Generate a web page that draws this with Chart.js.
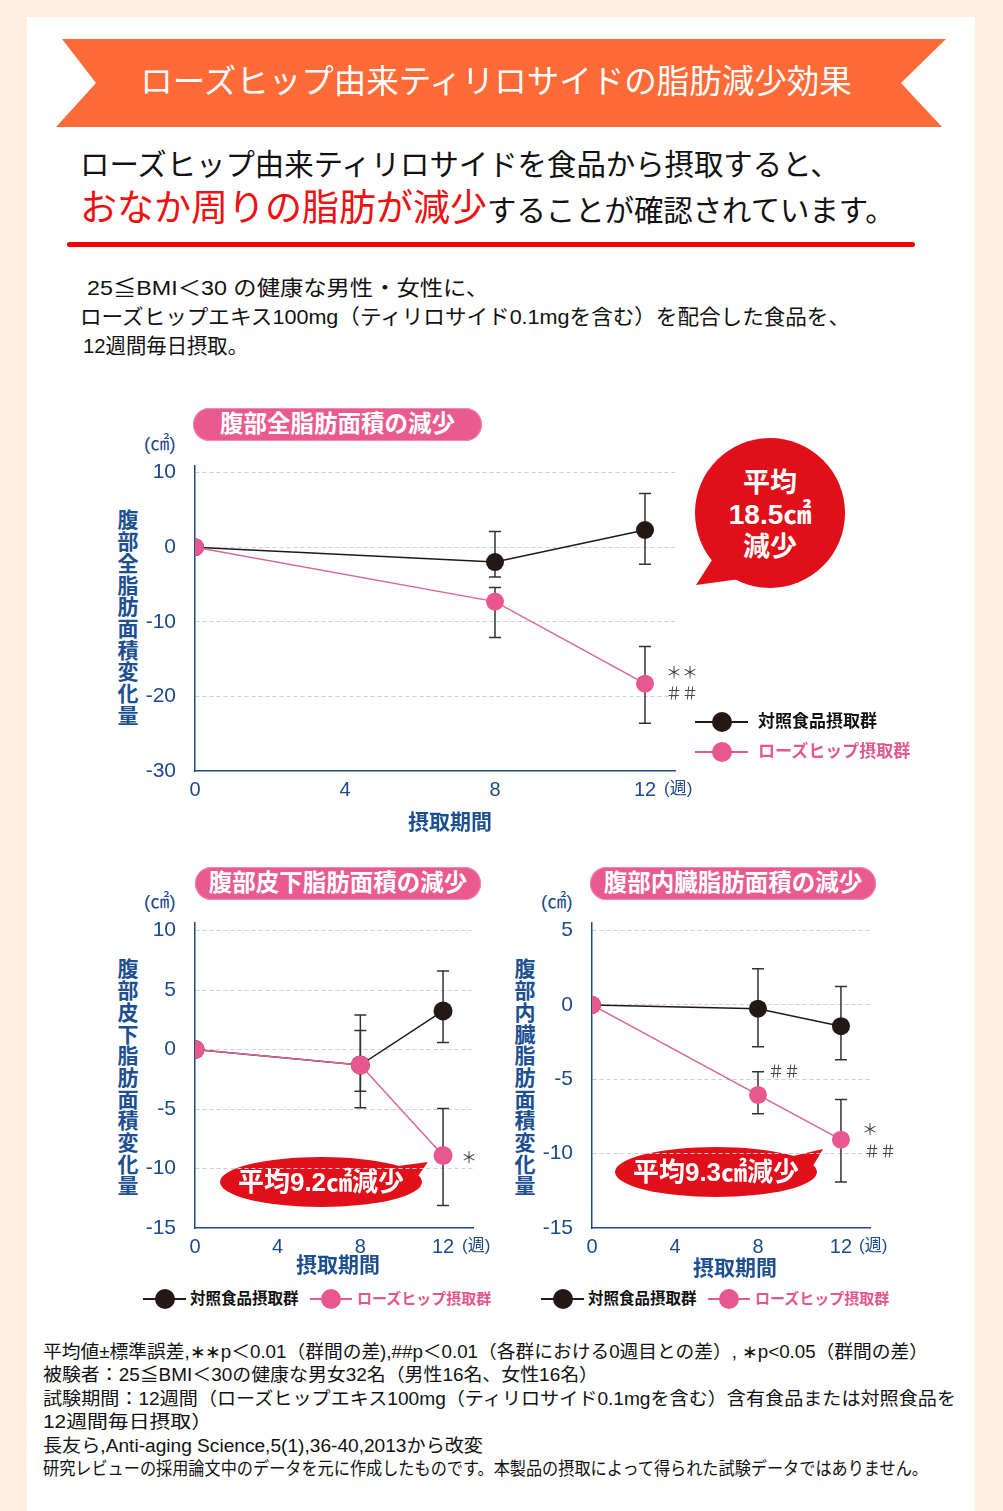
<!DOCTYPE html>
<html lang="ja">
<head>
<meta charset="utf-8">
<title>ローズヒップ由来ティリロサイドの脂肪減少効果</title>
<script src="https://cdn.jsdelivr.net/npm/chart.js@4.4.1/dist/chart.umd.min.js"></script>
<style>
  html, body { margin: 0; padding: 0; }
  body {
    width: 1003px; height: 1511px; position: relative; overflow: hidden;
    background: #fdeee1;
    font-family: "Liberation Sans", "Noto Sans CJK JP", sans-serif;
  }
  .panel { position: absolute; left: 27px; top: 17px; width: 948px; height: 1494px; background: #fff; }
  .abs { position: absolute; white-space: nowrap; }
  .fit { transform-origin: 0 50%; }
  .ribbon-text { left: 0; width: 992px; top: 60px; line-height: 44px; text-align: center; color: #fff; font-size: 32.5px; }
  .lead { left: 80px; font-size: 29.4px; color: #111; }
  .lead .red { color: #ee1111; font-size: 37px; }
  .rule { left: 67px; top: 242px; width: 848px; height: 5px; background: #f40000; border-radius: 3px; }
  .cond { left: 0; font-size: 21px; line-height: 29px; color: #111; }
  .pill { height: 33px; line-height: 33px; border-radius: 17px; background: #e95a8f; color: #fff;
          font-weight: 700; font-size: 23.5px; text-align: center; box-shadow: inset 0 0 0 1px #f08ab0; }
  .unit { font-size: 19px; color: #1d4a8a; line-height: 24px; }
  .ytitle { writing-mode: vertical-rl; font-weight: 700; font-size: 21px; color: #1d4f91; letter-spacing: 0.7px; line-height: 24px; }
  .xtitle { font-weight: 700; font-size: 21px; color: #1d4f91; line-height: 26px; transform: translateX(-50%); }
  .week { font-size: 17px; color: #1d4a8a; line-height: 22px; }
  .mark { font-size: 16px; color: #444; line-height: 20px; }
  .leg { font-weight: 700; line-height: 22px; }
  .note { left: 0; font-size: 18px; line-height: 23px; color: #111; }
  canvas { position: absolute; }
</style>
</head>
<body>
<div class="panel"></div>

<svg class="abs" style="left:0;top:0" width="1003" height="1511">
  <polygon points="62,39 946,39 901,83 942,127 56,127 96,83" fill="#ff6a37"/>
  <!-- bubble: total -->
  <polygon points="712,560 696,585 740,579" fill="#e10f1a"/>
  <circle cx="770" cy="513" r="75" fill="#e10f1a"/>
  <!-- bubble: subcutaneous -->
  <polygon points="398,1166 428,1162 418,1176" fill="#e10f1a"/>
  <ellipse cx="321" cy="1182" rx="101" ry="25" fill="#e10f1a"/>
  <!-- bubble: visceral -->
  <polygon points="793,1156 823,1149 813,1166" fill="#e10f1a"/>
  <ellipse cx="716" cy="1172" rx="101" ry="25" fill="#e10f1a"/>
</svg>

<div class="abs ribbon-text">ローズヒップ由来ティリロサイドの脂肪減少効果</div>
<div class="abs lead" style="top:144px;line-height:42px">ローズヒップ由来ティリロサイドを食品から摂取すると、</div>
<div class="abs lead" style="top:186px;line-height:46px"><span class="red">おなか周りの脂肪が減少</span>することが確認されています。</div>
<div class="abs rule"></div>

<div class="abs cond fit" data-x="87" data-w="402" style="top:273px">25≦BMI＜30 の健康な男性・女性に、</div>
<div class="abs cond fit" data-x="80" data-w="770" style="top:302px">ローズヒップエキス100mg（ティリロサイド0.1mgを含む）を配合した食品を、</div>
<div class="abs cond fit" data-x="83" data-w="165" style="top:331px">12週間毎日摂取。</div>

<!-- chart 1 -->
<div class="abs pill" style="left:193px;top:408px;width:289px">腹部全脂肪面積の減少</div>
<div class="abs unit" style="left:144px;top:432px">(㎠)</div>
<div class="abs ytitle" style="left:114px;top:509px">腹部全脂肪面積変化量</div>
<canvas id="chartTotal" width="600" height="376" style="left:100px;top:434px"></canvas>
<div class="abs week" style="left:664px;top:778px">(週)</div>
<div class="abs xtitle" style="left:450px;top:809px">摂取期間</div>
<div class="abs mark" style="left:666px;top:663px">＊＊</div>
<div class="abs mark" style="left:666px;top:684px">＃＃</div>
<div class="abs" style="left:700px;top:466px;width:140px;text-align:center;color:#fff;font-weight:700">
  <div style="font-size:27px;line-height:34px">平均</div>
  <div style="font-size:28px;line-height:30px">18.5㎠</div>
  <div style="font-size:27px;line-height:34px">減少</div>
</div>

<!-- chart 2 -->
<div class="abs pill" style="left:195px;top:867px;width:286px">腹部皮下脂肪面積の減少</div>
<div class="abs unit" style="left:144px;top:890px">(㎠)</div>
<div class="abs ytitle" style="left:114px;top:958px">腹部皮下脂肪面積変化量</div>
<canvas id="chartSub" width="400" height="369" style="left:100px;top:891px"></canvas>
<div class="abs week" style="left:462px;top:1235px">(週)</div>
<div class="abs xtitle" style="left:338px;top:1252px">摂取期間</div>
<div class="abs mark" style="left:461px;top:1148px">＊</div>
<div class="abs" style="left:221px;top:1166px;width:200px;text-align:center;color:#fff;font-weight:700;font-size:26px;line-height:32px">平均9.2㎠減少</div>

<!-- chart 3 -->
<div class="abs pill" style="left:590px;top:867px;width:286px">腹部内臓脂肪面積の減少</div>
<div class="abs unit" style="left:541px;top:890px">(㎠)</div>
<div class="abs ytitle" style="left:511px;top:958px">腹部内臓脂肪面積変化量</div>
<canvas id="chartVis" width="400" height="369" style="left:497px;top:891px"></canvas>
<div class="abs week" style="left:859px;top:1235px">(週)</div>
<div class="abs xtitle" style="left:735px;top:1255px">摂取期間</div>
<div class="abs mark" style="left:768px;top:1062px">＃＃</div>
<div class="abs mark" style="left:862px;top:1120px">＊</div>
<div class="abs mark" style="left:864px;top:1142px">＃＃</div>
<div class="abs" style="left:616px;top:1156px;width:200px;text-align:center;color:#fff;font-weight:700;font-size:26px;line-height:32px">平均9.3㎠減少</div>

<div id="legends"></div>

<div class="abs note fit" data-x="43" data-w="885" style="top:1341px">平均値±標準誤差,∗∗p＜0.01（群間の差),##p＜0.01（各群における0週目との差）, ∗p&lt;0.05（群間の差）</div>
<div class="abs note fit" data-x="43" data-w="555" style="top:1364px">被験者：25≦BMI＜30の健康な男女32名（男性16名、女性16名）</div>
<div class="abs note fit" data-x="43" data-w="913" style="top:1388px">試験期間：12週間（ローズヒップエキス100mg（ティリロサイド0.1mgを含む）含有食品または対照食品を</div>
<div class="abs note fit" data-x="43" data-w="169" style="top:1411px">12週間毎日摂取）</div>
<div class="abs note fit" data-x="43" data-w="440" style="top:1435px">長友ら,Anti-aging Science,5(1),36-40,2013から改変</div>
<div class="abs note fit" data-x="43" data-w="885" style="top:1458px">研究レビューの採用論文中のデータを元に作成したものです。本製品の摂取によって得られた試験データではありません。</div>

<script>
// weeks of intake
const weeks = [0, 8, 12];
const weekTicks = [0, 4, 8, 12];
const seriesNames = ['対照食品摂取群', 'ローズヒップ摂取群'];

// total abdominal fat area change (cm2)
const totalControl = [0, -2.0, 2.3];
const totalControlUp = [0, 4.1, 4.9];
const totalControlDown = [0, 2.0, 4.6];
const totalRose = [0, -7.3, -18.3];
const totalRoseUp = [0, 1.9, 5.0];
const totalRoseDown = [0, 4.8, 5.3];
const totalTicks = [-30, -20, -10, 0, 10];

// subcutaneous fat area change
const subControl = [0, -1.3, 3.25];
const subControlUp = [0, 4.2, 3.35];
const subControlDown = [0, 3.6, 2.65];
const subRose = [0, -1.3, -8.9];
const subRoseUp = [0, 2.9, 3.95];
const subRoseDown = [0, 2.2, 4.2];
const subTicks = [-15, -10, -5, 0, 5, 10];

// visceral fat area change
const visControl = [0, -0.25, -1.43];
const visControlUp = [0, 2.68, 2.68];
const visControlDown = [0, 2.56, 2.25];
const visRose = [0, -6.05, -9.06];
const visRoseUp = [0, 1.56, 2.7];
const visRoseDown = [0, 1.27, 2.84];
const visTicks = [-15, -10, -5, 0, 5];

const axisBlue = '#1d4a8a';
const blackColor = '#231815';
const pinkColor = '#e8588f';
const pinkLine = '#d9659a';
const TOP_GAP = 30; // plot top sits this far below the canvas top

// draws error bars for every dataset that carries errUp/errDown
const errorBars = {
  id: 'errorBars',
  beforeDatasetsDraw(chart) {
    const ctx = chart.ctx;
    const x = chart.scales.x, y = chart.scales.y;
    ctx.save();
    ctx.strokeStyle = '#333';
    ctx.lineWidth = 1.5;
    chart.data.datasets.forEach(ds => {
      ds.data.forEach((p, i) => {
        const up = ds.errUp[i], down = ds.errDown[i];
        if (!up && !down) return;
        const px = x.getPixelForValue(p.x);
        const top = y.getPixelForValue(p.y + up);
        const bot = y.getPixelForValue(p.y - down);
        ctx.beginPath();
        ctx.moveTo(px, top); ctx.lineTo(px, bot);
        ctx.moveTo(px - 6, top); ctx.lineTo(px + 6, top);
        ctx.moveTo(px - 6, bot); ctx.lineTo(px + 6, bot);
        ctx.stroke();
      });
    });
    ctx.restore();
  }
};

function points(vals) {
  return weeks.map((w, i) => ({ x: w, y: vals[i] }));
}

function makeChart(id, cfg) {
  const yMin = cfg.yTicks[0];
  const chart = new Chart(document.getElementById(id), {
    type: 'line',
    data: {
      datasets: [
        {
          label: seriesNames[0], data: points(cfg.control),
          errUp: cfg.controlUp, errDown: cfg.controlDown,
          borderColor: blackColor, backgroundColor: blackColor, borderWidth: 1.5,
          pointRadius: cfg.r, pointBorderWidth: 0, pointBackgroundColor: blackColor, order: 1
        },
        {
          label: seriesNames[1], data: points(cfg.rose),
          errUp: cfg.roseUp, errDown: cfg.roseDown,
          borderColor: pinkLine, backgroundColor: pinkColor, borderWidth: 1.5,
          pointRadius: cfg.r, pointBorderWidth: 0, pointBackgroundColor: pinkColor, order: 0
        }
      ]
    },
    options: {
      responsive: false,
      animation: false,
      layout: { padding: { top: TOP_GAP, right: cfg.padRight, left: 0, bottom: 0 } },
      plugins: { legend: { display: false }, tooltip: { enabled: false } },
      scales: {
        x: {
          type: 'linear', min: 0, max: cfg.xMax,
          afterBuildTicks: s => { s.ticks = weekTicks.map(v => ({ value: v })); },
          afterFit: s => { s.height = cfg.xHeight; },
          grid: { display: false, drawTicks: false },
          border: { color: axisBlue, width: 1.5 },
          ticks: { padding: 7, color: axisBlue, font: { family: 'Liberation Sans', size: 20 }, maxRotation: 0 }
        },
        y: {
          min: yMin, max: cfg.yMax,
          afterBuildTicks: s => { s.ticks = cfg.yTicks.map(v => ({ value: v })); },
          afterFit: s => { s.width = 95; },
          grid: {
            drawTicks: false, lineWidth: 1,
            color: c => (c.tick && c.tick.value === yMin) ? 'rgba(0,0,0,0)' : '#cfcfcf'
          },
          border: { color: axisBlue, width: 1.5, dash: [4, 3] },
          ticks: { padding: 19, color: axisBlue, font: { family: 'Liberation Sans', size: 21 } }
        }
      }
    },
    plugins: [errorBars]
  });
  // the layout adds room for the top tick label; take it back out of the padding
  const extra = chart.chartArea.top - TOP_GAP;
  if (Math.abs(extra) > 0.5) {
    chart.options.layout.padding = { top: TOP_GAP - extra, right: cfg.padRight, left: 0, bottom: 0 };
    chart.update('none');
  }
}

makeChart('chartTotal', {
  control: totalControl, controlUp: totalControlUp, controlDown: totalControlDown,
  rose: totalRose, roseUp: totalRoseUp, roseDown: totalRoseDown,
  yTicks: totalTicks, yMax: 10.93, xMax: 12.8, r: 9,
  padRight: 25, xHeight: 39
});
makeChart('chartSub', {
  control: subControl, controlUp: subControlUp, controlDown: subControlDown,
  rose: subRose, roseUp: subRoseUp, roseDown: subRoseDown,
  yTicks: subTicks, yMax: 10.67, xMax: 13.45, r: 9.5,
  padRight: 27, xHeight: 32
});
makeChart('chartVis', {
  control: visControl, controlUp: visControlUp, controlDown: visControlDown,
  rose: visRose, roseUp: visRoseUp, roseDown: visRoseDown,
  yTicks: visTicks, yMax: 5.54, xMax: 13.4, r: 9,
  padRight: 27, xHeight: 32
});

// legends: line + dot + name
function legendItem(x1, x2, y, color, name, textX, size) {
  const box = document.getElementById('legends');
  const line = document.createElement('div');
  line.className = 'abs';
  line.style.cssText = `left:${x1}px;top:${y - 1}px;width:${x2 - x1}px;height:2px;background:${color}`;
  box.appendChild(line);
  const dot = document.createElement('div');
  dot.className = 'abs';
  const cx = (x1 + x2) / 2;
  dot.style.cssText = `left:${cx - 10}px;top:${y - 10}px;width:20px;height:20px;border-radius:50%;background:${color}`;
  box.appendChild(dot);
  const label = document.createElement('div');
  label.className = 'abs leg';
  label.style.cssText = `left:${textX}px;top:${y - 11}px;font-size:${size}px;color:${color === blackColor ? '#111' : '#e4578c'}`;
  label.textContent = name;
  box.appendChild(label);
}
legendItem(695, 748, 722, blackColor, seriesNames[0], 758, 17);
legendItem(695, 748, 752, pinkColor, seriesNames[1], 758, 17);
legendItem(143, 186, 1299, blackColor, seriesNames[0], 190, 15.5);
legendItem(310, 352, 1299, pinkColor, seriesNames[1], 357, 15);
legendItem(541, 584, 1299, blackColor, seriesNames[0], 588, 15.5);
legendItem(708, 750, 1299, pinkColor, seriesNames[1], 755, 15);

// condensed text lines are squeezed to the width they have in the picture
document.querySelectorAll('.fit').forEach(el => {
  const w = el.getBoundingClientRect().width;
  el.style.left = el.dataset.x + 'px';
  el.style.transform = `scaleX(${el.dataset.w / w})`;
});
</script>
</body>
</html>
